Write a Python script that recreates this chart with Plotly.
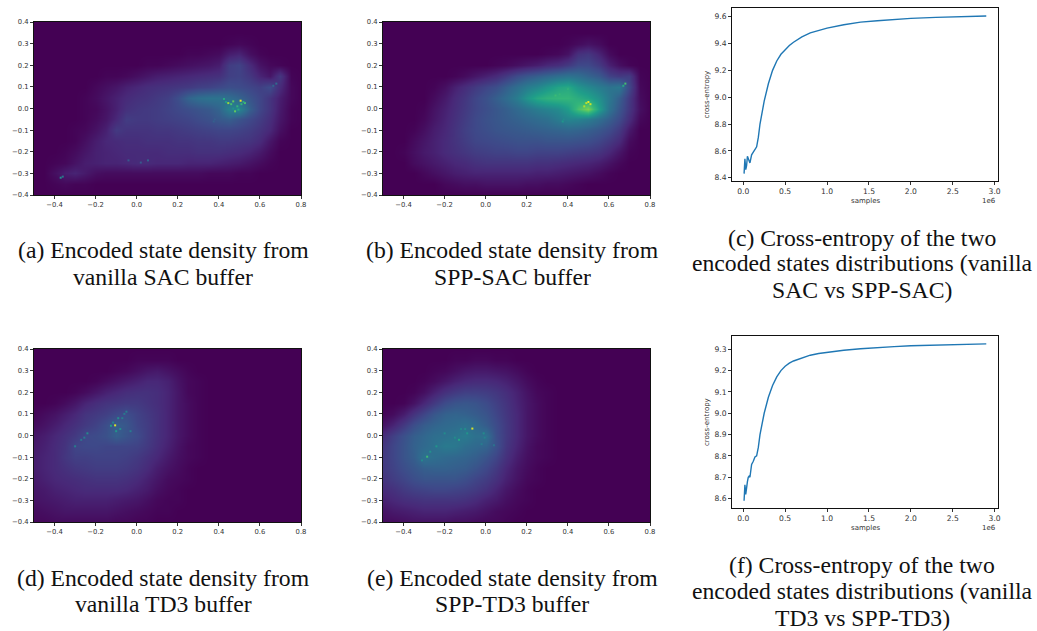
import plotly.graph_objects as go

W, H = 1037, 631

grid_x = [round(-0.5 + 0.05 * i, 2) for i in range(27)]
grid_y = [0.40, 0.35, 0.30, 0.25, 0.20, 0.15, 0.10, 0.05, 0.00, -0.05, -0.10, -0.15, -0.20, -0.25, -0.30, -0.35, -0.40]

density_a = [
 [0,0,0,0,0,0,0,0,0,0,0,0,0,0,0,0,0,0,0,0,0,0,0,0,0,0,0],
 [0,0,0,0,0,0,0,0,0,0,0,0,0,0,0,0,0,0,0,0,0,0,0,0,0,0,0],
 [0,0,0,0,0,0,0,0,0,0,0,0,0,0,0,0,0,0,0,1,2,1,0,0,0,0,0],
 [0,0,0,0,0,0,0,0,0,0,0,0,0,0,0,1,1,2,3,8,10,4,1,0,0,0,0],
 [0,0,0,0,0,0,0,0,0,0,0,1,1,2,3,4,5,6,8,18,20,12,5,2,1,0,0],
 [0,0,0,0,0,0,0,1,1,2,4,6,8,9,10,11,12,13,14,19,20,16,10,6,16,1,0],
 [0,0,0,0,0,0,2,4,6,9,11,13,14,15,16,17,19,20,22,24,23,21,19,23,12,2,0],
 [0,0,0,0,0,1,3,6,9,12,14,15,17,19,24,32,36,38,38,36,32,26,21,15,8,2,0],
 [0,0,0,0,0,1,2,5,9,14,16,17,18,20,22,24,26,28,32,44,46,30,21,15,7,1,0],
 [0,0,0,0,0,1,3,6,11,18,17,17,18,19,20,21,23,25,28,30,26,22,18,13,6,1,0],
 [0,0,0,0,1,2,5,9,17,15,15,15,16,16,17,18,19,20,21,21,20,18,15,11,4,0,0],
 [0,0,0,0,1,4,8,11,12,13,13,14,14,14,15,15,16,16,17,17,16,15,12,6,1,0,0],
 [0,0,0,1,3,6,9,10,11,12,12,12,12,13,13,13,14,14,14,13,12,10,7,3,0,0,0],
 [0,0,1,2,5,8,9,10,10,11,12,12,11,11,11,10,10,10,9,8,7,5,3,1,0,0,0],
 [0,0,4,8,10,7,4,3,3,3,3,3,3,3,3,3,3,2,2,2,1,1,0,0,0,0,0],
 [0,0,1,2,1,1,0,0,0,0,0,0,0,0,0,0,0,0,0,0,0,0,0,0,0,0,0],
 [0,0,0,0,0,0,0,0,0,0,0,0,0,0,0,0,0,0,0,0,0,0,0,0,0,0,0],
]

density_b = [
 [0,0,0,0,0,0,0,0,0,0,0,0,0,0,0,0,0,0,0,0,0,0,0,0,0,0,0],
 [0,0,0,0,0,0,0,0,0,0,0,0,0,0,0,0,0,0,0,0,0,0,0,0,0,0,0],
 [0,0,0,0,0,0,0,0,0,0,0,0,0,0,0,0,0,0,1,3,5,3,0,0,0,0,0],
 [0,0,0,0,0,0,0,0,0,0,0,0,0,0,0,0,1,2,5,14,16,10,3,0,0,0,0],
 [0,0,0,0,0,0,0,0,0,0,0,1,2,4,6,8,11,13,17,22,22,17,9,4,1,0,0],
 [0,0,0,0,0,0,0,1,3,6,9,12,17,23,27,30,33,36,38,36,32,28,20,17,18,1,0],
 [0,0,0,0,0,1,4,9,13,17,21,24,30,36,42,46,52,58,60,52,47,42,38,40,22,2,0],
 [0,0,0,0,0,3,7,12,16,21,25,30,35,42,52,60,64,66,66,62,58,50,40,30,17,3,0],
 [0,0,0,0,1,5,9,13,17,21,24,27,30,34,38,42,45,48,55,70,80,56,38,27,16,4,0],
 [0,0,0,0,2,6,10,14,18,22,25,27,29,31,33,35,37,42,46,45,42,36,30,23,13,2,0],
 [0,0,0,1,4,8,11,15,19,22,24,26,27,28,29,30,31,32,33,32,30,27,23,17,7,0,0],
 [0,0,0,3,6,9,12,15,18,21,22,23,24,25,25,25,26,26,26,25,24,21,17,12,3,0,0],
 [0,0,1,4,7,9,12,14,16,18,19,20,20,21,21,20,20,20,19,18,17,15,11,6,1,0,0],
 [0,0,0,3,5,7,9,11,12,14,15,15,15,15,15,14,14,13,12,11,10,8,5,2,0,0,0],
 [0,0,0,0,2,4,6,8,9,10,10,10,10,10,10,9,9,8,7,6,5,3,1,0,0,0,0],
 [0,0,0,0,0,0,2,3,4,4,5,5,5,5,4,4,3,3,2,1,0,0,0,0,0,0,0],
 [0,0,0,0,0,0,0,0,0,0,0,0,0,0,0,0,0,0,0,0,0,0,0,0,0,0,0],
]

density_d = [
 [0,0,0,0,0,0,0,0,0,0,0,0,0,0,0,0,0,0,0,0,0,0,0,0,0,0,0],
 [0,0,0,0,0,0,0,0,0,0,1,1,1,1,0,0,0,0,0,0,0,0,0,0,0,0,0],
 [0,0,0,0,0,0,0,0,1,2,4,6,7,5,3,1,0,0,0,0,0,0,0,0,0,0,0],
 [0,0,0,0,0,0,1,3,5,7,9,11,11,9,5,2,1,0,0,0,0,0,0,0,0,0,0],
 [0,0,0,0,1,3,6,9,11,13,14,14,13,10,6,2,1,0,0,0,0,0,0,0,0,0,0],
 [0,0,1,3,6,10,13,15,16,17,17,15,13,10,6,3,1,0,0,0,0,0,0,0,0,0,0],
 [1,3,5,8,11,15,17,19,22,24,20,17,14,10,6,3,1,0,0,0,0,0,0,0,0,0,0],
 [3,5,8,11,14,17,20,24,30,27,21,18,14,10,6,3,1,0,0,0,0,0,0,0,0,0,0],
 [6,8,11,14,17,22,23,25,30,26,23,18,14,10,6,3,1,0,0,0,0,0,0,0,0,0,0],
 [7,9,12,15,21,22,22,21,21,21,20,17,13,9,5,2,1,0,0,0,0,0,0,0,0,0,0],
 [8,10,12,16,19,19,20,20,20,19,17,14,11,7,4,2,1,0,0,0,0,0,0,0,0,0,0],
 [8,10,12,14,16,17,18,18,18,17,15,12,8,5,3,1,0,0,0,0,0,0,0,0,0,0,0],
 [7,9,11,12,13,14,15,15,15,14,12,9,6,3,2,1,0,0,0,0,0,0,0,0,0,0,0],
 [6,7,9,10,11,12,12,12,12,11,9,7,4,2,1,0,0,0,0,0,0,0,0,0,0,0,0],
 [5,6,7,8,9,9,9,9,8,7,6,4,2,1,1,0,0,0,0,0,0,0,0,0,0,0,0],
 [3,4,5,6,6,6,6,6,5,4,3,2,1,1,0,0,0,0,0,0,0,0,0,0,0,0,0],
 [2,2,3,3,3,3,3,3,2,2,1,1,0,0,0,0,0,0,0,0,0,0,0,0,0,0,0],
]

density_e = [
 [0,0,0,0,0,0,0,0,0,0,0,0,0,0,0,0,0,0,0,0,0,0,0,0,0,0,0],
 [0,0,0,0,0,0,0,1,1,2,2,1,1,0,0,0,0,0,0,0,0,0,0,0,0,0,0],
 [0,0,0,0,0,1,2,4,6,7,7,6,5,3,1,0,0,0,0,0,0,0,0,0,0,0,0],
 [0,0,0,0,1,3,6,9,11,12,12,11,9,6,3,1,0,0,0,0,0,0,0,0,0,0,0],
 [0,0,0,1,4,9,14,17,19,19,18,16,13,9,5,2,1,0,0,0,0,0,0,0,0,0,0],
 [0,0,1,5,11,17,23,26,27,26,23,19,15,10,6,3,1,0,0,0,0,0,0,0,0,0,0],
 [1,3,8,15,21,27,31,32,31,29,26,21,16,11,6,3,1,0,0,0,0,0,0,0,0,0,0],
 [5,10,17,24,29,32,34,35,37,34,29,23,17,11,6,3,1,0,0,0,0,0,0,0,0,0,0],
 [13,19,25,30,33,36,37,39,41,37,37,24,17,11,6,3,1,0,0,0,0,0,0,0,0,0,0],
 [16,21,26,31,34,37,41,40,36,34,32,25,16,10,5,2,1,0,0,0,0,0,0,0,0,0,0],
 [17,21,26,30,38,36,34,33,32,30,26,21,14,8,4,2,1,0,0,0,0,0,0,0,0,0,0],
 [17,20,24,27,30,31,31,30,29,26,22,17,11,6,3,1,0,0,0,0,0,0,0,0,0,0,0],
 [15,18,21,24,26,26,26,26,24,21,18,14,9,5,2,1,0,0,0,0,0,0,0,0,0,0,0],
 [12,14,17,19,20,21,21,20,19,17,14,10,6,3,1,0,0,0,0,0,0,0,0,0,0,0,0],
 [9,11,13,14,15,15,15,15,14,12,9,7,4,2,1,0,0,0,0,0,0,0,0,0,0,0,0],
 [5,7,8,9,10,10,10,9,8,7,5,3,2,1,0,0,0,0,0,0,0,0,0,0,0,0,0],
 [3,3,4,5,5,5,5,4,4,3,2,2,1,0,0,0,0,0,0,0,0,0,0,0,0,0,0],
]

spots_a_x = [0.446, 0.47, 0.506, 0.527, 0.49, 0.479, 0.425, 0.46, 0.51, 0.435, 0.495, 0.47, 0.52, -0.37, -0.36, -0.04, 0.02, 0.055, 0.38, 0.375, 0.68, 0.665]
spots_a_y = [0.025, 0.033, 0.036, 0.025, 0.01, -0.013, 0.044, 0.02, 0.02, 0.03, -0.005, 0.0, 0.03, -0.32, -0.315, -0.24, -0.25, -0.24, -0.05, -0.06, 0.115, 0.105]
spots_a_v = [85, 75, 97, 70, 65, 75, 60, 70, 65, 55, 60, 50, 60, 48, 40, 28, 28, 32, 30, 30, 35, 32]
spots_b_x = [0.5, 0.48, 0.51, 0.49, 0.68, 0.67, 0.375, 0.38, 0.34, 0.4, 0.36]
spots_b_y = [0.03, 0.01, 0.02, 0.025, 0.115, 0.105, -0.06, -0.05, 0.06, 0.09, 0.065]
spots_b_v = [97, 88, 93, 90, 70, 60, 52, 48, 68, 64, 66]
spots_d_x = [-0.105, -0.125, -0.1, -0.09, -0.05, -0.24, -0.255, -0.3, -0.03, -0.08, -0.07, -0.115, -0.06, -0.27]
spots_d_y = [0.047, 0.045, 0.02, 0.08, 0.11, 0.01, -0.01, -0.05, 0.02, 0.03, 0.08, 0.06, 0.1, -0.02]
spots_d_v = [95, 55, 52, 48, 42, 48, 42, 42, 42, 48, 42, 45, 40, 38]
spots_e_x = [-0.065, -0.285, -0.13, -0.24, -0.2, -0.01, -0.02, -0.09, 0.04, -0.31, -0.1, -0.27, -0.15, -0.005, -0.12]
spots_e_y = [0.032, -0.098, -0.02, -0.05, 0.01, 0.01, -0.04, 0.01, -0.045, -0.115, 0.03, -0.075, -0.01, -0.01, 0.03]
spots_e_v = [95, 68, 58, 52, 48, 48, 42, 52, 38, 46, 48, 50, 48, 44, 46]

samples_c = [0.01,0.02,0.03,0.04,0.05,0.06,0.07,0.08,0.09,0.10,0.12,0.14,0.16,0.18,0.20,0.25,0.30,0.35,0.40,0.45,0.50,0.55,0.60,0.70,0.80,0.90,1.00,1.20,1.40,1.60,1.80,2.00,2.30,2.60,2.90]
entropy_c = [8.43,8.54,8.46,8.49,8.56,8.54,8.52,8.51,8.54,8.57,8.59,8.615,8.63,8.70,8.80,8.97,9.10,9.20,9.27,9.32,9.355,9.385,9.41,9.45,9.48,9.50,9.515,9.54,9.56,9.57,9.58,9.588,9.595,9.60,9.605]
entropy_f = [8.59,8.665,8.62,8.67,8.68,8.70,8.705,8.70,8.74,8.76,8.775,8.795,8.80,8.84,8.90,9.00,9.075,9.13,9.17,9.20,9.22,9.235,9.245,9.26,9.272,9.28,9.286,9.295,9.302,9.308,9.312,9.316,9.32,9.324,9.325]

density_x_ticks = [-0.4, -0.2, 0.0, 0.2, 0.4, 0.6, 0.8]
density_x_labels = ["\u22120.4", "\u22120.2", "0.0", "0.2", "0.4", "0.6", "0.8"]
density_y_ticks = [-0.4, -0.3, -0.2, -0.1, 0.0, 0.1, 0.2, 0.3, 0.4]
density_y_labels = ["\u22120.4", "\u22120.3", "\u22120.2", "\u22120.1", "0.0", "0.1", "0.2", "0.3", "0.4"]
sample_ticks = [0.0, 0.5, 1.0, 1.5, 2.0, 2.5, 3.0]
entropy_c_ticks = [8.4, 8.6, 8.8, 9.0, 9.2, 9.4, 9.6]
entropy_f_ticks = [8.6, 8.7, 8.8, 8.9, 9.0, 9.1, 9.2, 9.3]

captions = [
    (163, [(250, "(a) Encoded state density from"), (277, "vanilla SAC buffer")]),
    (512, [(250, "(b) Encoded state density from"), (277, "SPP-SAC buffer")]),
    (862, [(238, "(c) Cross-entropy of the two"), (263, "encoded states distributions (vanilla"), (290, "SAC vs SPP-SAC)")]),
    (163, [(578, "(d) Encoded state density from"), (604, "vanilla TD3 buffer")]),
    (512, [(578, "(e) Encoded state density from"), (604, "SPP-TD3 buffer")]),
    (862, [(565, "(f) Cross-entropy of the two"), (591, "encoded states distributions (vanilla"), (618, "TD3 vs SPP-TD3)")]),
]

TICK = "#333333"
LINE = "#1f77b4"
fig = go.Figure()
layout = dict(width=W, height=H, autosize=False, margin=dict(l=0, r=0, t=0, b=0, autoexpand=False),
              paper_bgcolor="white", plot_bgcolor="white", showlegend=False,
              font=dict(family="DejaVu Sans", size=7, color=TICK))
annotations = []


def dom_x(a, b):
    return [a / W, b / W]


def dom_y(top, bottom):
    return [1 - bottom / H, 1 - top / H]


def set_axes(n, xbox, ybox, xr, yr, xt, xl, yt, yl, fs):
    common = dict(showgrid=False, zeroline=False, showline=True, linecolor="#111111", linewidth=1,
                  mirror=True, ticks="outside", ticklen=3, tickwidth=1, tickcolor="#333333",
                  tickfont=dict(family="DejaVu Sans", size=fs, color=TICK))
    layout[f"xaxis{n}"] = dict(domain=dom_x(*xbox), range=xr, tickmode="array", tickvals=xt, ticktext=xl,
                               anchor=f"y{n}", **common)
    layout[f"yaxis{n}"] = dict(domain=dom_y(*ybox), range=yr, tickmode="array", tickvals=yt, ticktext=yl,
                               anchor=f"x{n}", **common)


def density(n, z, sx, sy, sv, xbox, ybox):
    # Repeat the border cells just past the axis limits so the image fills the frame.
    padded_x = [-0.55] + grid_x + [0.85]
    padded_y = [0.45] + grid_y + [-0.45]
    padded_z = [[row[0]] + row + [row[-1]] for row in [z[0]] + z + [z[-1]]]
    fig.add_trace(go.Heatmap(x=padded_x, y=padded_y, z=padded_z, zmin=0, zmax=100, colorscale="Viridis",
                             showscale=False, zsmooth="best", xaxis=f"x{n}", yaxis=f"y{n}"))
    fig.add_trace(go.Scatter(x=sx, y=sy, mode="markers", xaxis=f"x{n}", yaxis=f"y{n}",
                             marker=dict(symbol="square", size=2, color=sv, cmin=0, cmax=100,
                                         colorscale="Viridis", line=dict(width=0))))
    set_axes(n, xbox, ybox, [-0.5, 0.8], [-0.4, 0.4], density_x_ticks, density_x_labels,
             density_y_ticks, density_y_labels, 6.8)


def entropy(n, y, yr, yt, xbox, ybox):
    fig.add_trace(go.Scatter(x=samples_c, y=y, mode="lines", xaxis=f"x{n}", yaxis=f"y{n}",
                             line=dict(color=LINE, width=1.4)))
    set_axes(n, xbox, ybox, [-0.134, 3.04], yr, sample_ticks, [f"{t:.1f}" for t in sample_ticks],
             yt, [f"{t:.1f}" for t in yt], 7.6)
    left, right = xbox
    top, bottom = ybox
    annotations.append(dict(text="samples", xref="paper", yref="paper", x=(left + right) / 2 / W,
                            y=1 - (bottom + 20) / H, showarrow=False, xanchor="center", yanchor="middle",
                            font=dict(family="DejaVu Sans", size=7, color=TICK)))
    annotations.append(dict(text="1e6", xref="paper", yref="paper", x=right / W,
                            y=1 - (bottom + 19.5) / H, showarrow=False, xanchor="right", yanchor="middle",
                            font=dict(family="DejaVu Sans", size=7, color=TICK)))
    annotations.append(dict(text="cross-entropy", xref="paper", yref="paper", x=707 / W,
                            y=1 - (top + bottom) / 2 / H, showarrow=False, textangle=-90,
                            xanchor="center", yanchor="middle",
                            font=dict(family="DejaVu Sans", size=7, color=TICK)))


density(1, density_a, spots_a_x, spots_a_y, spots_a_v, (34, 301), (22, 195))
density(2, density_b, spots_b_x, spots_b_y, spots_b_v, (383, 650), (22, 195))
entropy(3, entropy_c, [8.375, 9.665], entropy_c_ticks, (732, 998), (8, 181))
density(4, density_d, spots_d_x, spots_d_y, spots_d_v, (34, 301), (349, 522))
density(5, density_e, spots_e_x, spots_e_y, spots_e_v, (383, 650), (349, 522))
entropy(6, entropy_f, [8.556, 9.362], entropy_f_ticks, (732, 998), (336, 508))

for cx, lines in captions:
    for cy, text in lines:
        annotations.append(dict(text=text, xref="paper", yref="paper", x=cx / W, y=1 - cy / H,
                                showarrow=False, xanchor="center", yanchor="middle",
                                font=dict(family="Liberation Serif", size=23.7, color="#111111")))

layout["annotations"] = annotations
fig.update_layout(**layout)
fig.write_html("out.html", post_script="document.body.style.margin='0';",
               config={"displayModeBar": False})
